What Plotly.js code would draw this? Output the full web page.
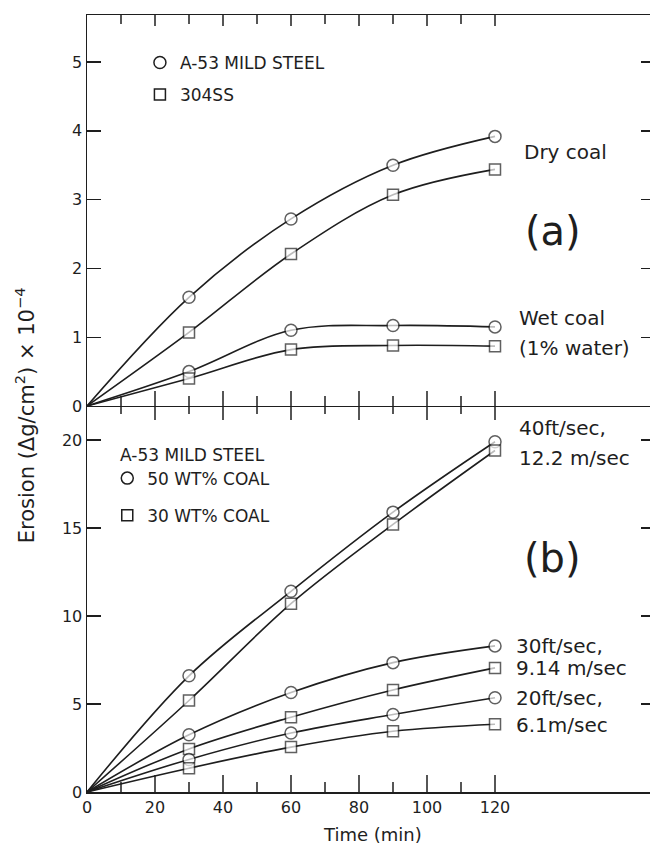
<!DOCTYPE html>
<html>
<head>
<meta charset="utf-8">
<script src="https://cdn.plot.ly/plotly-3.0.1.min.js"></script>
<style>html,body{margin:0;padding:0;background:#fff;}#chart{width:650px;height:848px;}</style>
</head>
<body>
<div id="chart"></div>
<script>
// ---- data ----
const time = [0, 30, 60, 90, 120];
const xTickVals = [0, 20, 40, 60, 80, 100, 120];
const xMinorVals = [10, 30, 50, 70, 90, 110];
// panel (a)
const dryA53 = [0, 1.58, 2.72, 3.50, 3.92];
const dry304 = [0, 1.07, 2.21, 3.07, 3.44];
const wetA53 = [0, 0.50, 1.10, 1.17, 1.15];
const wet304 = [0, 0.40, 0.82, 0.88, 0.87];
const yTopTicks = [0, 1, 2, 3, 4, 5];
// panel (b)
const v40c50 = [0, 6.6, 11.4, 15.9, 19.9];
const v40c30 = [0, 5.2, 10.7, 15.2, 19.4];
const v30c50 = [0, 3.25, 5.65, 7.35, 8.3];
const v30c30 = [0, 2.45, 4.25, 5.8, 7.05];
const v20c50 = [0, 1.85, 3.35, 4.4, 5.35];
const v20c30 = [0, 1.35, 2.55, 3.45, 3.85];
const yBotTicks = [0, 5, 10, 15, 20];
const yBotLabels = ['0', '5', '10', '15', '20'];

const ink = '#1e1e1e';
const FONT = 'DejaVu Sans, Liberation Sans, sans-serif';

function series(y, sym, xa, ya) {
  return {
    x: time, y: y, xaxis: xa, yaxis: ya, type: 'scatter', mode: 'lines+markers',
    line: {shape: 'spline', smoothing: 1, color: ink, width: 1.6},
    marker: {symbol: sym, size: time.map(t => t === 0 ? 0 : (sym === 'square' ? 11 : 12)),
             color: 'white', line: {color: ink, width: time.map(t => t === 0 ? 0 : 1.5)}},
    showlegend: false, hoverinfo: 'skip'
  };
}
function legendItem(name, sym, leg, xa, ya, grp) {
  return {x: [null], y: [null], xaxis: xa, yaxis: ya, type: 'scatter', mode: 'markers', name: name,
    legend: leg, legendgroup: grp,
    marker: {symbol: sym, size: sym === 'square' ? 11 : 12, color: 'white', line: {color: ink, width: 1.5}}};
}
const dummy = (xa, ya) => ({x: [null], y: [null], xaxis: xa, yaxis: ya, type: 'scatter', mode: 'markers',
  showlegend: false, hoverinfo: 'skip'});

const data = [
  series(dryA53, 'circle', 'x2', 'y2'),
  series(dry304, 'square', 'x2', 'y2'),
  series(wetA53, 'circle', 'x2', 'y2'),
  series(wet304, 'square', 'x2', 'y2'),
  series(v40c50, 'circle', 'x', 'y'),
  series(v40c30, 'square', 'x', 'y'),
  series(v30c50, 'circle', 'x', 'y'),
  series(v30c30, 'square', 'x', 'y'),
  series(v20c50, 'circle', 'x', 'y'),
  series(v20c30, 'square', 'x', 'y'),
  legendItem('A-53 MILD STEEL', 'circle', 'legend', 'x2', 'y2', 'a1'),
  legendItem('304SS', 'square', 'legend', 'x2', 'y2', 'a2'),
  legendItem('50 WT% COAL', 'circle', 'legend2', 'x', 'y', 'b1'),
  legendItem('30 WT% COAL', 'square', 'legend2', 'x', 'y', 'b2'),
  dummy('x', 'y3'), dummy('x2', 'y4')
];

// 3.4 px per minute over a 563 px wide plot; plot area 777 px tall
const xRange = [0, 563 / 3.4];
const plotH = 777;
const split = 0.4968;
const px = n => n / plotH;
const xFrac = v => (v - xRange[0]) / (xRange[1] - xRange[0]);

// x tick marks along the three horizontal borders, placed from the tick arrays (unclipped, paper coords)
function tickMarks(vals, yLow, yHigh) {
  return vals.filter(v => v > 0).map(v => ({
    type: 'line', layer: 'above', xref: 'paper', x0: xFrac(v), x1: xFrac(v),
    yref: 'paper', y0: yLow, y1: yHigh, line: {color: ink, width: 1.5}
  }));
}
const shapes = [].concat(
  tickMarks(xTickVals, 0, px(17)),                       // bottom border, rising
  tickMarks(xMinorVals, 0, px(10)),
  tickMarks(xTickVals, split - px(14), split + px(15)),  // shared border, crossing
  tickMarks(xMinorVals, split - px(8), split + px(10)),
  tickMarks(xTickVals, 1 - px(11), 1),                   // top border, hanging
  tickMarks(xMinorVals, 1 - px(9), 1)
);

const rightY = (ya, xa, range, vals) => ({overlaying: ya, anchor: xa, side: 'right', range: range, tickvals: vals, ticks: 'inside',
  ticklen: 9, tickwidth: 1.3, tickcolor: ink, showticklabels: false, showline: false, showgrid: false, zeroline: false});

const txt = (s, x, y, xr, yr, size, anchor) => ({text: s, x: x, y: y, xref: xr, yref: yr, showarrow: false,
  xanchor: anchor || 'left', yanchor: 'middle', font: {family: FONT, size: size, color: ink}});

const layout = {
  width: 650, height: 848,
  margin: {l: 87, r: 0, t: 15, b: 56},
  paper_bgcolor: 'white', plot_bgcolor: 'white',
  font: {family: FONT, color: ink},
  xaxis: {domain: [0, 1], anchor: 'y', range: xRange, tickvals: xTickVals, ticks: '',
    showline: true, linecolor: ink, linewidth: 1.5, showgrid: false, zeroline: false,
    tickfont: {family: FONT, size: 16, color: ink}},
  xaxis2: {domain: [0, 1], anchor: 'y2', range: xRange, tickvals: xTickVals, ticks: '', showticklabels: false,
    showline: true, mirror: true, linecolor: ink, linewidth: 1.5, showgrid: false, zeroline: false},
  yaxis: {domain: [0, split], range: [0, 21.93], tickvals: yBotTicks, ticktext: yBotLabels, anchor: 'x',
    ticks: 'inside', ticklen: 14, tickwidth: 1.3, tickcolor: ink, showline: true, linecolor: ink, linewidth: 1.5,
    showgrid: false, zeroline: false, tickfont: {family: FONT, size: 16, color: ink}},
  yaxis2: {domain: [split, 1], range: [0, 5.685], tickvals: yTopTicks, anchor: 'x2',
    ticks: 'inside', ticklen: 14, tickwidth: 1.3, tickcolor: ink, showline: true, linecolor: ink, linewidth: 1.5,
    showgrid: false, zeroline: false, tickfont: {family: FONT, size: 16, color: ink}},
  yaxis3: rightY('y', 'x', [0, 21.93], [5, 10, 15, 20]),
  yaxis4: rightY('y2', 'x2', [0, 5.685], [1, 2, 3, 4, 5]),
  shapes: shapes,
  legend: {x: 0.094, y: 0.9615, xanchor: 'left', yanchor: 'top', bgcolor: 'rgba(0,0,0,0)',
    font: {family: FONT, size: 17, color: ink}, tracegroupgap: 7, itemclick: false},
  legend2: {x: 0.036, y: 0.455, xanchor: 'left', yanchor: 'top', bgcolor: 'rgba(0,0,0,0)',
    font: {family: FONT, size: 17, color: ink}, tracegroupgap: 12,
    title: {text: '\u00a0\u00a0A-53 MILD STEEL', font: {family: FONT, size: 17, color: ink}}},
  annotations: [
    txt('Dry coal', 128, 3.69, 'x2', 'y2', 20),
    txt('(a)', 137, 2.55, 'x2', 'y2', 40, 'center'),
    txt('Wet coal', 126.5, 1.28, 'x2', 'y2', 20),
    txt('(1% water)', 126.5, 0.85, 'x2', 'y2', 20),
    txt('40ft/sec,', 126.5, 20.7, 'x', 'y', 20),
    txt('12.2 m/sec', 126.5, 19.0, 'x', 'y', 20),
    txt('(b)', 137, 13.3, 'x', 'y', 40, 'center'),
    txt('30ft/sec,', 125.5, 8.3, 'x', 'y', 20),
    txt('9.14 m/sec', 125.5, 7.05, 'x', 'y', 20),
    txt('20ft/sec,', 125.5, 5.34, 'x', 'y', 20),
    txt('6.1m/sec', 125.5, 3.8, 'x', 'y', 20),
    Object.assign(txt('Erosion (\u0394g/cm<sup>2</sup>) \u00d7 10<sup>\u22124</sup>', -0.11, 0.485, 'paper', 'paper', 21, 'center'), {textangle: -90}),
    txt('Time (min)', 84, -0.0553, 'x', 'paper', 18, 'center')
  ]
};

Plotly.newPlot('chart', data, layout, {staticPlot: true, displayModeBar: false});
</script>
</body>
</html>
